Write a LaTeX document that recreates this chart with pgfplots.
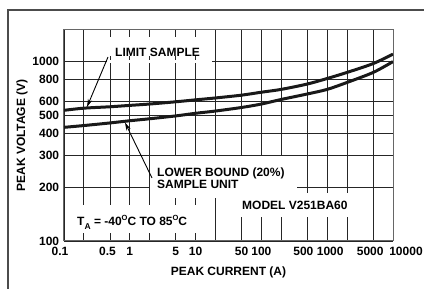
\documentclass[border=0pt]{standalone}
\usepackage{fontspec}
\setmainfont{Liberation Sans}
\usepackage{pgfplots}
\pgfplotsset{compat=1.18}
\usetikzlibrary{arrows.meta}

\pgfplotstableread{
I V
0.1 535
0.2 550
0.5 560
1 570
2 580
5 597
10 612
20 627
50 650
100 675
200 700
500 750
1000 805
2000 870
5000 975
10000 1100
}\upperdata

\pgfplotstableread{
I V
0.1 430
0.2 440
0.5 455
1 468
2 480
5 498
10 515
20 530
50 555
100 580
200 615
500 660
1000 700
2000 765
5000 870
10000 1000
}\lowerdata

\newcommand{\lbl}{\bfseries\fontsize{12}{13}\selectfont}

\begin{document}
\begin{tikzpicture}[font=\lbl]
\useasboundingbox (0,0) rectangle (424pt,289pt);
\begin{axis}[
  at={(64pt,48pt)}, anchor=south west,
  scale only axis, width=329pt, height=211pt,
  xmode=log, ymode=log,
  xmin=0.1, xmax=10000, ymin=100, ymax=1500,
  xtick={0.1,0.2,0.5,1,2,5,10,20,50,100,200,500,1000,2000,5000,10000},
  xticklabels={0.1\kern8pt,,0.5\kern5pt,1,,5,10,,50,100,,500\kern8pt,\kern6pt1000,,5000\kern6pt,\kern26pt10000},
  ytick={100,200,300,400,500,600,800,1000},
  yticklabels={100,200,300,400,500,600,800,1000},
  minor xtick={}, minor ytick={},
  major tick length=0pt,
  grid=major,
  major grid style={line width=0.8pt, black!85},
  axis line style={line width=1pt, black!60},
  xticklabel style={anchor=north, yshift=-2.3pt, font=\lbl},
  yticklabel style={anchor=east, xshift=-1.3pt, font=\lbl},
  xlabel={PEAK CURRENT (A)},
  ylabel={PEAK VOLTAGE (V)},
  xlabel style={at={(axis description cs:0.5,-0.147)}, anchor=center, font=\lbl},
  ylabel style={at={(axis description cs:-0.1277,0.5)}, anchor=center, font=\lbl},
]
\addplot[line width=3pt, black!90, smooth] table[x=I, y=V] {\upperdata};
\addplot[line width=3pt, black!90, smooth] table[x=I, y=V] {\lowerdata};
\end{axis}
\begin{scope}[shift={(0,289pt)}, x=1pt, y=-1pt]
  \draw[black!70, line width=1.2pt] (8,289) -- (8,10) -- (424,10);
  % white label backgrounds
  \fill[white] (107,37) rectangle (212,56);
  \fill[white] (107,60.5) rectangle (212,63.5);
  \fill[white] (150,156) rectangle (297,198);
  \fill[white] (236,193) rectangle (353,217);
  \fill[white] (66,205) rectangle (205,233);
  % texts
  \node[anchor=base west, inner sep=0] at (115,56.5) {LIMIT SAMPLE};
  \node[anchor=base west, inner sep=0] at (157,177) {LOWER BOUND (20\%)};
  \node[anchor=base west, inner sep=0] at (157,188.5) {SAMPLE UNIT};
  \node[anchor=base west, inner sep=0] at (242,209.5) {MODEL V251BA60};
  \node[anchor=base west, inner sep=0] at (77,226) {T\raisebox{-0.3em}{\fontsize{8.5}{9}\selectfont A} = -40\raisebox{0.45em}{\fontsize{7.5}{8}\selectfont O}C TO 85\raisebox{0.45em}{\fontsize{7.5}{8}\selectfont O}C};
  % arrows
  \draw[line width=0.9pt, -{Stealth[length=8pt, width=4.5pt]}] (108,57) -- (87,107);
  \draw[line width=0.9pt, -{Stealth[length=8pt, width=4.5pt]}] (152,178) -- (125,122.5);
\end{scope}
\end{tikzpicture}
\end{document}
